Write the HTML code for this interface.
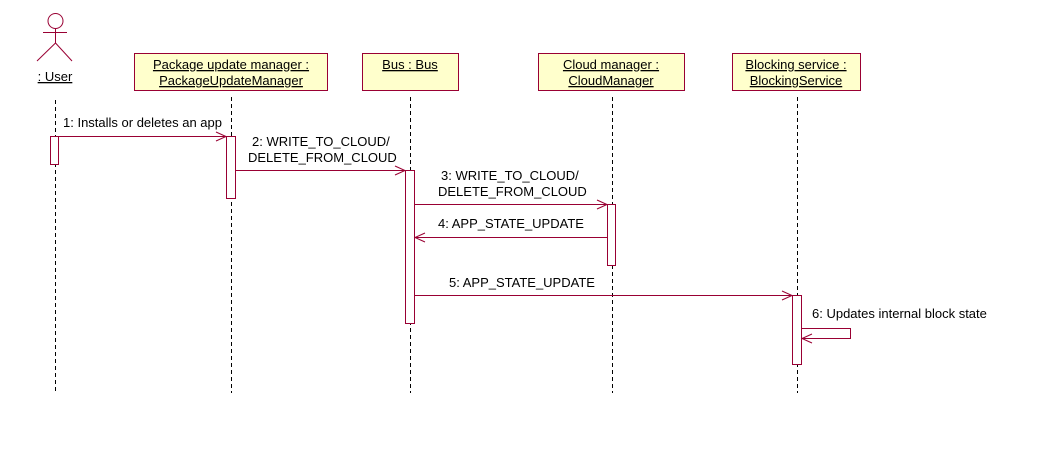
<!DOCTYPE html>
<html><head><meta charset="utf-8"><style>
html,body{margin:0;padding:0;background:#fff;}
svg{display:block;}
text{font-family:"Liberation Sans",Arial,sans-serif;font-size:13px;fill:#000;}
</style></head><body>
<svg width="1038" height="464" viewBox="0 0 1038 464" xmlns="http://www.w3.org/2000/svg">
<g stroke="#000" stroke-width="1" stroke-dasharray="4,3" fill="none">
<line x1="55.5" y1="100" x2="55.5" y2="393"/>
<line x1="231.5" y1="97" x2="231.5" y2="393"/>
<line x1="410.5" y1="97" x2="410.5" y2="393"/>
<line x1="612.5" y1="97" x2="612.5" y2="393"/>
<line x1="797.5" y1="97" x2="797.5" y2="393"/>
</g>
<g stroke="#990033" stroke-width="1" fill="none">
<circle cx="55.5" cy="21" r="7.5"/>
<line x1="55.5" y1="29" x2="55.5" y2="43"/>
<line x1="43" y1="32.5" x2="67" y2="32.5"/>
<line x1="55.5" y1="43" x2="37" y2="61"/>
<line x1="55.5" y1="43" x2="72" y2="61"/>
</g>
<text x="55" y="81" text-anchor="middle" text-decoration="underline">: User</text>
<g stroke="#990033" stroke-width="1" fill="#ffffcc">
<rect x="134.5" y="53.5" width="193" height="37"/>
<rect x="362.5" y="53.5" width="96" height="37"/>
<rect x="538.5" y="53.5" width="146" height="37"/>
<rect x="732.5" y="53.5" width="128" height="37"/>
</g>
<g text-anchor="middle" text-decoration="underline">
<text x="231" y="69">Package update manager : </text>
<text x="231" y="85">PackageUpdateManager</text>
<text x="410" y="69">Bus : Bus</text>
<text x="611" y="69">Cloud manager : </text>
<text x="611" y="85">CloudManager</text>
<text x="796" y="69">Blocking service : </text>
<text x="796" y="85">BlockingService</text>
</g>
<g stroke="#990033" stroke-width="1" fill="#fff">
<rect x="50.5" y="136.5" width="8" height="28"/>
<rect x="226.5" y="136.5" width="9" height="62"/>
<rect x="405.5" y="170.5" width="9" height="153"/>
<rect x="607.5" y="204.5" width="8" height="61"/>
<rect x="792.5" y="295.5" width="9" height="69"/>
</g>
<g stroke="#990033" stroke-width="1" fill="none">
<line x1="58" y1="136.5" x2="226" y2="136.5"/><polyline points="216,132 226,136.5 216,141"/>
<line x1="235" y1="170.5" x2="405" y2="170.5"/><polyline points="395,166 405,170.5 395,175"/>
<line x1="414" y1="204.5" x2="607" y2="204.5"/><polyline points="597,200 607,204.5 597,209"/>
<line x1="607" y1="237.5" x2="415" y2="237.5"/><polyline points="425,233 415,237.5 425,242"/>
<line x1="414" y1="295.5" x2="792" y2="295.5"/><polyline points="782,291 792,295.5 782,300"/>
<polyline points="802,328.5 850.5,328.5 850.5,338.5 802,338.5"/><polyline points="812,334 802,338.5 812,343"/>
</g>
<text x="63" y="127">1: Installs or deletes an app</text>
<text x="252" y="146">2: WRITE_TO_CLOUD/</text>
<text x="248" y="162">DELETE_FROM_CLOUD</text>
<text x="441" y="180">3: WRITE_TO_CLOUD/</text>
<text x="438" y="196">DELETE_FROM_CLOUD</text>
<text x="438" y="228">4: APP_STATE_UPDATE</text>
<text x="449" y="287">5: APP_STATE_UPDATE</text>
<text x="812" y="318">6: Updates internal block state</text>
</svg>
</body></html>
